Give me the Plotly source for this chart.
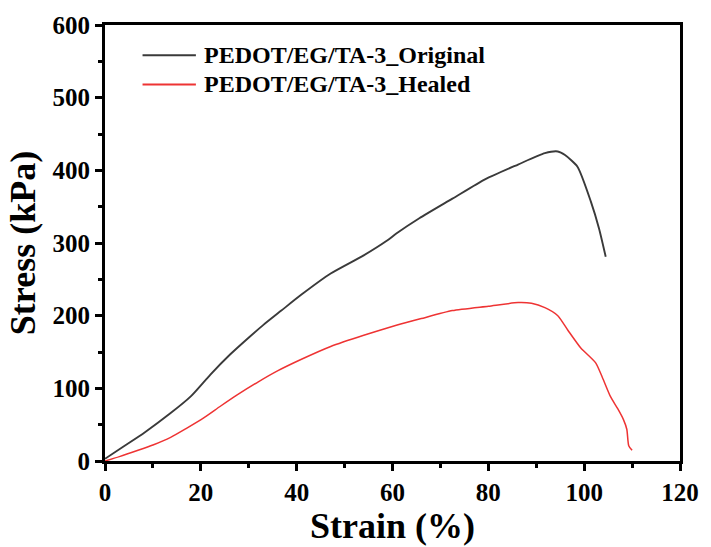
import plotly.graph_objects as go

orig_strain = [0, 4.1, 8.2, 13.7, 17.9, 22, 26.1, 30.2, 33, 36.8, 41, 47.1, 54, 58.8, 60.8, 65.6, 72.5, 79.4, 86.2, 91.8, 94.5, 96, 98.6, 101.4, 103.1, 104.5]
orig_stress = [3, 21, 39, 66, 89, 119, 146.5, 171, 187, 207, 229, 258, 283, 303, 313, 334, 361, 388, 408, 423.6, 426, 421, 405, 357, 320, 281]

heal_strain = [0, 3, 6.9, 10, 13.7, 17, 20.6, 24, 27.5, 32, 36, 41, 47.1, 54, 60.8, 66, 72.5, 80, 86.2, 89, 91.8, 94.5, 96.6, 99.3, 102.4, 103.8, 105.5, 107, 108.2, 108.9, 109.3, 110]
heal_stress = [0, 6, 14.7, 22, 32.6, 45, 59.4, 75, 90.6, 109, 124, 140, 157.6, 173, 186.7, 196, 207, 213, 218, 217, 211, 200, 180, 155.5, 135, 115, 88.5, 72, 57, 43.7, 21, 14.7]

series_names = ["PEDOT/EG/TA-3_Original", "PEDOT/EG/TA-3_Healed"]
series_colors = ["#3a3a3a", "#ee3333"]

x_ticks = [0, 20, 40, 60, 80, 100, 120]
y_ticks = [0, 100, 200, 300, 400, 500, 600]

FONT = "Liberation Serif"

fig = go.Figure()
fig.add_trace(go.Scatter(x=orig_strain, y=orig_stress, mode="lines",
                         name=series_names[0], showlegend=False,
                         line=dict(color=series_colors[0], width=1.9, shape="spline", smoothing=0.6)))
fig.add_trace(go.Scatter(x=heal_strain, y=heal_stress, mode="lines",
                         name=series_names[1], showlegend=False,
                         line=dict(color=series_colors[1], width=1.5, shape="spline", smoothing=0.6)))

axis_common = dict(
    showline=True, linecolor="black", linewidth=3, mirror=True,
    ticks="outside", ticklen=7, tickwidth=2.5, tickcolor="black",
    showgrid=False, zeroline=False,
    tickfont=dict(family=FONT, size=25, color="black", weight="bold"),
    minor=dict(ticks="outside", ticklen=4, tickwidth=2.5, tickcolor="black", showgrid=False),
)

fig.update_xaxes(range=[0, 120], tickvals=x_ticks, minor_dtick=10,
                 title=dict(text="Strain (%)", standoff=4,
                            font=dict(family=FONT, size=36, color="black", weight="bold")),
                 **axis_common)
fig.update_yaxes(range=[0, 600], tickvals=y_ticks, minor_dtick=50,
                 title=dict(text="Stress (kPa)", standoff=6,
                            font=dict(family=FONT, size=36, color="black", weight="bold")),
                 **axis_common)

# legend drawn in paper coordinates
W = 582.0
H = 447.0
leg_x0 = (143 - 105) / W
leg_x1 = (197 - 105) / W
leg_tx = (203 - 105) / W
leg_rows = [(469 - 53) / H, (469 - 83) / H]
for name, color, yy in zip(series_names, series_colors, leg_rows):
    fig.add_shape(type="line", xref="paper", yref="paper",
                  x0=leg_x0, x1=leg_x1, y0=yy, y1=yy,
                  line=dict(color=color, width=1.8))
    fig.add_annotation(xref="paper", yref="paper", x=leg_tx, y=yy,
                       xanchor="left", yanchor="middle", showarrow=False,
                       text=name,
                       font=dict(family=FONT, size=24, color="black", weight="bold"))

fig.update_layout(
    width=711, height=547,
    margin=dict(l=105, r=24, t=22, b=78),
    paper_bgcolor="white", plot_bgcolor="white",
)

fig.write_html("out.html")
